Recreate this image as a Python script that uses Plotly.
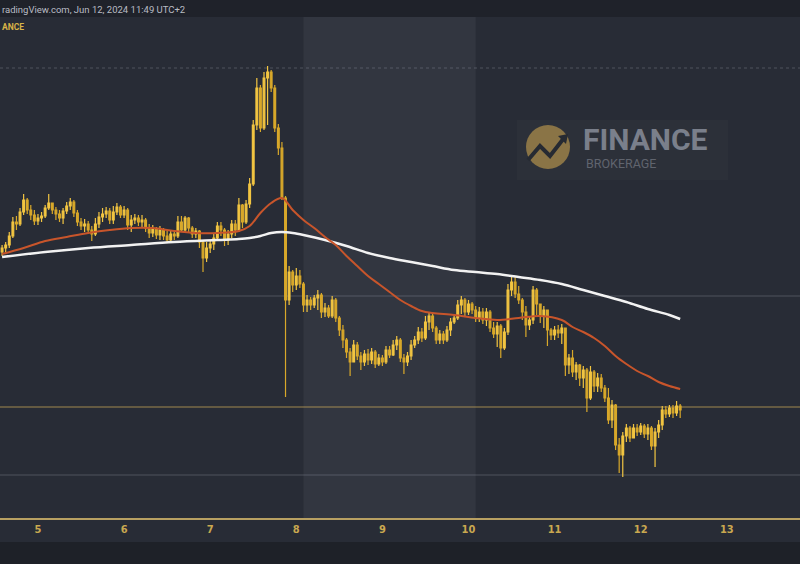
import numpy as np
import pandas as pd
import plotly.graph_objects as go

# ---------------- data (hourly candles, Jun 4 14:00 -> Jun 12 11:00, UTC+2) ----------------
start_time = "2024-06-04 14:00"
n_candles = 190

close = [3752, 3755, 3764, 3778, 3776, 3788, 3800, 3790, 3785, 3779,
         3782, 3784, 3792, 3797, 3790, 3786, 3782, 3789, 3794, 3798,
         3787, 3778, 3774, 3776, 3770, 3766, 3776, 3783, 3786, 3789,
         3780, 3788, 3793, 3785, 3790, 3775, 3780, 3782, 3778, 3780,
         3772, 3767, 3771, 3765, 3770, 3764, 3760, 3766, 3764, 3778,
         3770, 3782, 3772, 3766, 3769, 3758, 3742, 3752, 3756, 3762,
         3774, 3770, 3760, 3766, 3776, 3770, 3795, 3778, 3796, 3816,
         3875, 3912, 3872, 3922, 3928, 3912, 3872, 3852, 3802, 3700,
         3728, 3715, 3724, 3716, 3695, 3700, 3695, 3702, 3705, 3688,
         3692, 3684, 3700, 3682, 3670, 3660, 3648, 3638, 3655, 3644,
         3638, 3646, 3640, 3648, 3636, 3642, 3638, 3650, 3645, 3655,
         3660, 3642, 3638, 3644, 3655, 3660, 3668, 3662, 3678, 3684,
         3672, 3660, 3666, 3660, 3670, 3678, 3682, 3695, 3700, 3688,
         3696, 3690, 3682, 3688, 3680, 3688, 3672, 3666, 3674, 3652,
         3668, 3710, 3718, 3706, 3700, 3688, 3675, 3680, 3710, 3696,
         3684, 3690, 3670, 3665, 3670, 3667, 3672, 3635, 3642, 3628,
         3635, 3622, 3630, 3602, 3628, 3614, 3622, 3612, 3602, 3580,
         3595, 3555, 3545, 3564, 3572, 3562, 3572, 3568, 3574, 3566,
         3572, 3554, 3568, 3575, 3590, 3586, 3592, 3587, 3594, 3590]

high = [3755, 3758, 3768, 3783, 3784, 3792, 3806, 3802, 3795, 3790,
        3786, 3788, 3795, 3806, 3797, 3793, 3790, 3792, 3798, 3802,
        3800, 3790, 3782, 3781, 3779, 3774, 3782, 3788, 3792, 3793,
        3792, 3794, 3797, 3795, 3794, 3792, 3785, 3786, 3785, 3785,
        3782, 3776, 3775, 3773, 3774, 3772, 3769, 3770, 3770, 3784,
        3784, 3784, 3783, 3774, 3772, 3770, 3760, 3758, 3760, 3766,
        3778, 3778, 3772, 3770, 3780, 3780, 3802, 3796, 3800, 3822,
        3880, 3922, 3915, 3928, 3934, 3930, 3915, 3876, 3858, 3804,
        3734, 3730, 3732, 3730, 3718, 3705, 3703, 3705, 3710, 3707,
        3697, 3695, 3704, 3702, 3684, 3675, 3662, 3652, 3660, 3658,
        3648, 3650, 3651, 3652, 3650, 3646, 3645, 3654, 3654, 3660,
        3664, 3662, 3646, 3648, 3660, 3664, 3673, 3672, 3684, 3688,
        3686, 3674, 3670, 3669, 3674, 3682, 3685, 3700, 3704, 3702,
        3700, 3698, 3694, 3693, 3692, 3692, 3690, 3678, 3678, 3676,
        3672, 3716, 3724, 3724, 3714, 3702, 3694, 3684, 3714, 3712,
        3695, 3694, 3688, 3672, 3674, 3675, 3676, 3670, 3646, 3650,
        3638, 3636, 3634, 3632, 3634, 3630, 3627, 3626, 3615, 3612,
        3600, 3596, 3562, 3568, 3576, 3574, 3576, 3576, 3577, 3576,
        3576, 3574, 3572, 3580, 3594, 3594, 3595, 3595, 3599, 3596]

low = [3744, 3748, 3752, 3762, 3770, 3774, 3785, 3786, 3780, 3775,
       3775, 3778, 3782, 3790, 3786, 3780, 3778, 3776, 3786, 3790,
       3783, 3774, 3770, 3768, 3766, 3759, 3764, 3772, 3778, 3782,
       3776, 3776, 3785, 3782, 3782, 3770, 3768, 3776, 3774, 3772,
       3768, 3762, 3763, 3761, 3760, 3760, 3757, 3758, 3760, 3762,
       3768, 3768, 3767, 3762, 3762, 3752, 3728, 3738, 3747, 3750,
       3760, 3764, 3754, 3755, 3762, 3764, 3768, 3772, 3776, 3792,
       3814, 3870, 3868, 3870, 3875, 3908, 3868, 3845, 3800, 3603,
       3695, 3708, 3710, 3712, 3688, 3688, 3690, 3692, 3690, 3682,
       3683, 3682, 3682, 3678, 3664, 3652, 3642, 3624, 3638, 3640,
       3630, 3634, 3635, 3636, 3632, 3634, 3634, 3636, 3642, 3644,
       3650, 3638, 3626, 3634, 3640, 3652, 3656, 3658, 3660, 3670,
       3668, 3656, 3656, 3656, 3658, 3664, 3676, 3680, 3686, 3684,
       3685, 3686, 3678, 3678, 3676, 3674, 3668, 3662, 3653, 3642,
       3650, 3665, 3704, 3702, 3696, 3680, 3663, 3670, 3676, 3685,
       3677, 3672, 3654, 3660, 3660, 3662, 3656, 3624, 3626, 3623,
       3620, 3614, 3612, 3588, 3600, 3608, 3608, 3608, 3598, 3576,
       3572, 3550, 3527, 3523, 3558, 3558, 3564, 3564, 3565, 3562,
       3560, 3550, 3533, 3562, 3570, 3582, 3583, 3582, 3584, 3582]

first_open = 3748

# moving averages (candle index -> value)
ema50_idx = [0, 6, 12, 18, 24, 30, 36, 42, 48, 54, 60, 66, 69, 72, 75, 78, 81, 84, 87, 90,
             93, 96, 99, 102, 105, 108, 111, 114, 117, 120, 126, 132, 138, 144, 150, 156, 159, 162, 165, 168,
             171, 174, 177, 180, 183, 186, 189]
ema50_val = [3746, 3752, 3759, 3763, 3767, 3770, 3772, 3772, 3769, 3767, 3767, 3769, 3774, 3787, 3797, 3802, 3790, 3780, 3772, 3763,
             3755, 3744, 3734, 3724, 3716, 3708, 3700, 3694, 3689, 3687, 3685, 3682, 3680, 3682, 3684, 3680, 3673, 3668, 3662, 3654,
             3644, 3636, 3629, 3624, 3618, 3614, 3611]
ema200_idx = [0, 12, 24, 36, 48, 60, 66, 69, 72, 75, 78, 81, 84, 90, 96, 102, 108, 114, 120, 126,
              132, 138, 144, 150, 156, 162, 168, 174, 180, 186, 189]
ema200_val = [3743, 3748, 3752, 3755, 3758, 3760, 3761, 3762, 3764, 3767, 3768, 3767, 3765, 3760, 3754, 3747, 3742, 3738, 3734, 3730,
              3728, 3726, 3723, 3720, 3716, 3710, 3704, 3698, 3691, 3685, 3681]

day_ticks = ["2024-06-05", "2024-06-06", "2024-06-07", "2024-06-08", "2024-06-09",
             "2024-06-10", "2024-06-11", "2024-06-12", "2024-06-13"]
day_labels = ["5", "6", "7", "8", "9", "10", "11", "12", "13"]

levels_full = [3932, 3704, 3525]
level_yellow = 3593
weekend = ["2024-06-08 02:00", "2024-06-10 02:00"]

# ---------------- build ----------------
times = pd.date_range(start_time, periods=n_candles, freq="h")
close = np.array(close, float)
opn = np.concatenate([[first_open], close[:-1]])
high = np.maximum(np.array(high, float), np.maximum(opn, close))
low = np.minimum(np.array(low, float), np.minimum(opn, close))

BG = "#282c36"
W, H = 800, 564
T, B = 17, 46
PH = H - T - B


def py(y):  # pixel y -> paper y
    return (H - B - y) / PH


def px(x):
    return x / W


fig = go.Figure()
fig.add_trace(go.Candlestick(
    x=times, open=opn, high=high, low=low, close=close,
    increasing=dict(line=dict(color="#f2c542", width=1.2), fillcolor="#f2c542"),
    decreasing=dict(line=dict(color="#d8a82a", width=1.2), fillcolor="#d8a82a"),
    whiskerwidth=0, showlegend=False, hoverinfo="skip"))

fig.add_trace(go.Scatter(x=times[ema200_idx], y=ema200_val, mode="lines",
                         line=dict(color="#f2f2f2", width=2.5, shape="spline"),
                         showlegend=False, hoverinfo="skip"))
fig.add_trace(go.Scatter(x=times[ema50_idx], y=ema50_val, mode="lines",
                         line=dict(color="#c8552b", width=2, shape="spline"),
                         showlegend=False, hoverinfo="skip"))

shapes = []
# weekend shading
shapes.append(dict(type="rect", xref="x", yref="paper", x0=weekend[0], x1=weekend[1], y0=0, y1=1,
                   fillcolor="#323640", line_width=0, layer="below"))
# horizontal levels
for lv in levels_full:
    shapes.append(dict(type="line", xref="paper", yref="y", x0=0, x1=1, y0=lv, y1=lv,
                       line=dict(color="rgba(150,155,165,0.35)", width=1, dash="dot" if lv == levels_full[0] else "solid"),
                       layer="below"))
shapes.append(dict(type="line", xref="paper", yref="y", x0=0, x1=1, y0=level_yellow, y1=level_yellow,
                   line=dict(color="rgba(200,170,90,0.75)", width=1), layer="below"))
# top & bottom strips
shapes.append(dict(type="rect", xref="paper", yref="paper", x0=0, x1=1, y0=1, y1=py(0),
                   fillcolor="#1f222a", line_width=0, layer="below"))
shapes.append(dict(type="rect", xref="paper", yref="paper", x0=0, x1=1, y0=py(542), y1=py(564),
                   fillcolor="#1e2128", line_width=0, layer="below"))
# watermark box and logo
shapes.append(dict(type="rect", xref="paper", yref="paper", x0=px(517), x1=px(728), y0=py(180), y1=py(120),
                   fillcolor="#2c3039", line_width=0, layer="below"))
shapes.append(dict(type="circle", xref="paper", yref="paper", x0=px(526), x1=px(570), y0=py(169), y1=py(125),
                   fillcolor="#8a7446", line_width=0, layer="below"))
shapes.append(dict(type="path", xref="paper", yref="paper",
                   path=f"M {px(528)} {py(160)} L {px(540)} {py(146)} L {px(550)} {py(156)} L {px(564)} {py(138)}",
                   line=dict(color="#262a32", width=4), layer="below"))
shapes.append(dict(type="path", xref="paper", yref="paper",
                   path=f"M {px(558)} {py(136)} L {px(568)} {py(134)} L {px(566)} {py(144)} Z",
                   fillcolor="#262a32", line_width=0, layer="below"))

annotations = [
    dict(text="radingView.com, Jun 12, 2024 11:49 UTC+2", xref="paper", yref="paper", x=0, y=py(9),
         xanchor="left", yanchor="middle", showarrow=False,
         font=dict(family="Roboto, Noto Sans, sans-serif", size=9.5, color="#b9bcc4")),
    dict(text="<b>ANCE</b>", xref="paper", yref="paper", x=0, y=py(27),
         xanchor="left", yanchor="middle", showarrow=False,
         font=dict(family="Roboto, sans-serif", size=8.5, color="#d8b448")),
    dict(text="<b>FINANCE</b>", xref="paper", yref="paper", x=px(581), y=py(139),
         xanchor="left", yanchor="middle", showarrow=False,
         font=dict(family="Roboto, DejaVu Sans, sans-serif", size=30, color="#7a7f8b")),
    dict(text="BROKERAGE", xref="paper", yref="paper", x=px(584), y=py(163),
         xanchor="left", yanchor="middle", showarrow=False,
         font=dict(family="Roboto, DejaVu Sans, sans-serif", size=12.5, color="#60646e")),
]

fig.update_layout(
    width=W, height=H,
    margin=dict(l=0, r=0, t=T, b=B),
    paper_bgcolor=BG, plot_bgcolor=BG,
    shapes=shapes, annotations=annotations,
    showlegend=False,
    xaxis=dict(range=["2024-06-04 13:25", "2024-06-13 20:24"], rangeslider=dict(visible=False),
               tickvals=day_ticks, ticktext=day_labels, showgrid=False, zeroline=False,
               showline=True, linecolor="#b8a062", linewidth=1.5, ticks="",
               tickfont=dict(family="Liberation Sans Narrow, DejaVu Sans Condensed, sans-serif",
                             size=11, color="#c9a850", weight="bold")),
    yaxis=dict(range=[3482, 3983], visible=False, showgrid=False, zeroline=False, fixedrange=True),
)

fig.write_html("out.html", config={"displayModeBar": False},
               post_script="document.body.style.margin='0';document.body.style.overflow='hidden';")
